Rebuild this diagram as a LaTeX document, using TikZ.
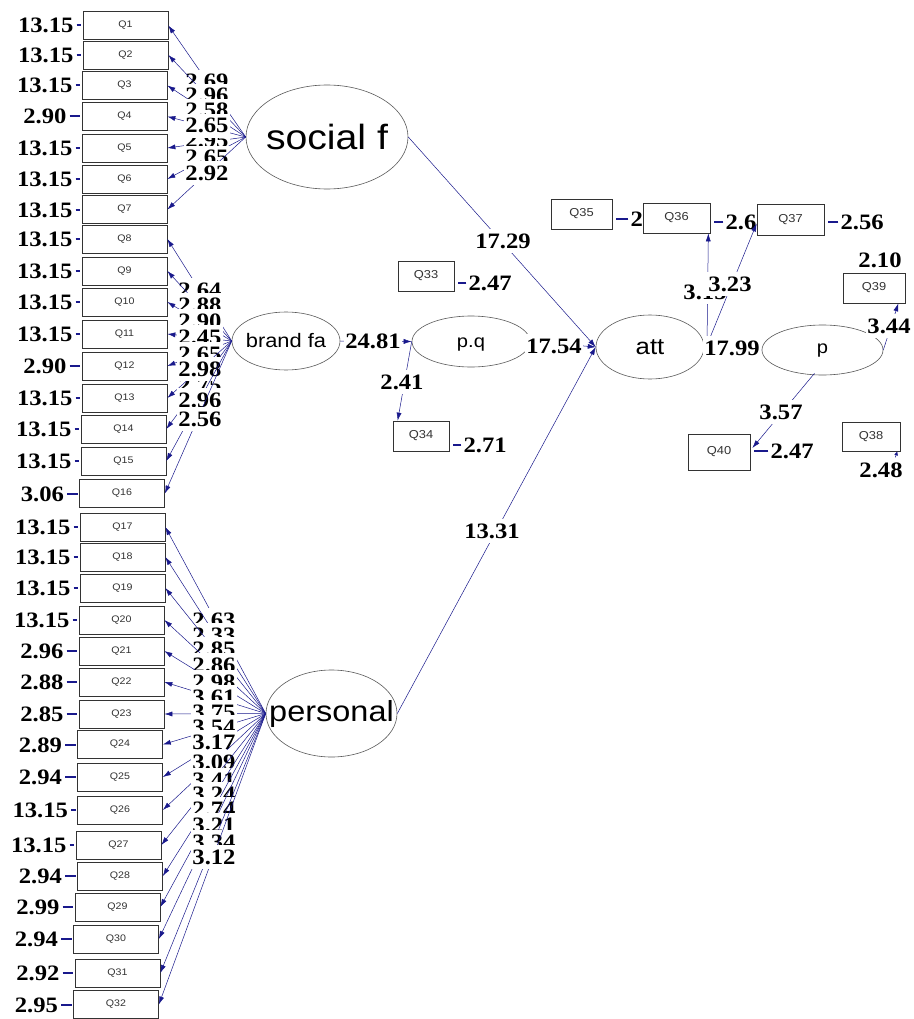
\documentclass[tikz,border=0pt]{standalone}
\usepackage{fontspec}
\usetikzlibrary{shapes.geometric,arrows.meta,calc}
\newfontfamily\numf[FakeStretch=1.12]{Liberation Serif}
\newfontfamily\sansf[FakeStretch=1.12]{Liberation Sans}
\definecolor{navy}{RGB}{25,25,140}
\begin{document}
\begin{tikzpicture}[x=1pt,y=-1pt,
  obs/.style={draw=black!80, line width=0.7pt, rectangle, minimum width=85pt, minimum height=28pt, inner sep=0pt, font=\sansf\fontsize{9.5}{10}\selectfont, text=black!80},
  robs/.style={obs, font=\sansf\fontsize{11.5}{12}\selectfont},
  lat/.style={draw=black!65, line width=0.6pt, ellipse, inner sep=0pt},
  lattext/.style={inner sep=0pt, font=\sansf\fontsize{#1}{#1}\selectfont},
  num/.style={font=\numf\bfseries\fontsize{22}{22}\selectfont, inner sep=0pt, text height=15pt, text depth=0pt},
  lab/.style={num, fill=white, text height=19pt, text depth=5pt, inner xsep=1.5pt},
  ind/.style={draw=navy, line width=0.5pt, -{Latex[length=8pt,width=5pt]}},
  edash/.style={draw=navy, line width=2pt},
]
\fill[white] (0,0) rectangle (913,1019);
\useasboundingbox (0,0) rectangle (913,1019);

% ---- latent variables
\node[lat, minimum width=162pt, minimum height=104pt] (sf) at (327,137) {};
\node[lattext=35] (sft) at (sf.center) {social f};
\node[lat, minimum width=108pt, minimum height=58pt] (bf) at (286,341) {};
\node[lattext=19.5] (bft) at (bf.center) {brand fa};
\node[lat, minimum width=118pt, minimum height=51pt] (pq) at (471,341.5) {};
\node[lattext=18] (pqt) at ($(pq.center)+(0,3)$) {p.q};
\node[lat, minimum width=108pt, minimum height=64pt] (att) at (650,347) {};
\node[lattext=23] (attt) at (att.center) {att};
\node[lat, minimum width=121pt, minimum height=50pt] (pp) at (822.5,350) {};
\node[lattext=18] (ppt) at ($(pp.center)+(0,1)$) {p};
\node[lat, minimum width=131pt, minimum height=87pt] (pers) at (331.5,713.5) {};
\node[lattext=29] (perst) at (pers.center) {personal};

% ---- left observed variables with error values
\foreach \n/\x/\y/\e/\g in {
1/125.5/25.5/13.15/9, 2/125.5/55/13.15/9, 3/124.5/85.5/13.15/9, 4/124.5/116.5/2.90/15,
5/124.5/148/13.15/9, 6/124.5/179/13.15/9, 7/124.5/209.5/13.15/9, 8/124.5/239/13.15/9,
9/124.5/271/13.15/9, 10/124.5/302/13.15/9, 11/124.5/334/13.15/9, 12/124.5/366/2.90/15,
13/124.5/398/13.15/9, 14/123.5/429/13.15/9, 15/123.5/461/13.15/9, 16/122/493.5/3.06/15,
17/122.5/527/13.15/9, 18/122.5/557/13.15/9, 19/122.5/588/13.15/9, 20/121.5/620/13.15/9,
21/121.5/651/2.96/15, 22/121.5/682/2.88/15, 23/121.5/714/2.85/15, 24/120/744.5/2.89/15,
25/120/777/2.94/15, 26/120/810/13.15/9, 27/118.5/845/13.15/9, 28/120/876/2.94/15,
29/117.5/907/2.99/15, 30/116/939/2.94/15, 31/117.5/973/2.92/15, 32/116/1004.5/2.95/15}{
  \node[obs] (Q\n) at (\x,\y) {Q\n};
  \node[num, anchor=east] (E\n) at ($(Q\n.west)+(-\g,0)$) {\e};
  \draw[edash] ($(E\n.east)+(3,0)$) -- ($(Q\n.west)+(-1.5,0)$);
}

% ---- loadings: social f
\foreach \n/\v/\ly in {1/2.69/82, 2/2.96/96, 3/2.58/111, 5/2.95/141, 4/2.65/126, 6/2.65/158, 7/2.92/173}{
  \draw[ind] (sf.west) -- (Q\n.east);
  \node[lab] (L\n) at (207,\ly) {\v};
}
% ---- loadings: brand fa
\foreach \n/\v/\ly in {8/2.64/290, 9/2.88/305, 10/2.90/321, 11/2.45/337, 12/2.65/354, 14/2.75/385, 13/2.98/369, 15/2.96/400, 16/2.56/419}{
  \draw[ind] (bf.west) -- (Q\n.east);
  \node[lab] (L\n) at (200,\ly) {\v};
}
% ---- loadings: personal
\foreach \n/\v/\ly in {17/2.63/620, 18/2.33/635, 19/2.85/649, 20/2.86/665, 21/2.98/682, 22/3.61/697,
  23/3.75/712, 24/3.54/727, 25/3.17/742, 26/3.09/762, 27/3.41/780, 28/3.24/794, 29/2.74/809,
  30/3.21/825, 31/3.34/842, 32/3.12/857}{
  \draw[ind] (pers.west) -- (Q\n.east);
  \node[lab] (L\n) at (214,\ly) {\v};
}

% ---- right observed variables
\node[robs, minimum width=61pt, minimum height=30pt] (Q35) at (581.5,214) {Q35};
\node[robs, minimum width=56pt, minimum height=30pt] (Q33) at (426,276) {Q33};
\node[robs, minimum width=56pt, minimum height=30pt] (Q34) at (421,436) {Q34};
\node[robs, minimum width=67pt, minimum height=30pt] (Q36) at (676.5,218) {Q36};
\node[robs, minimum width=67pt, minimum height=31pt] (Q37) at (790.5,219.5) {Q37};
\node[robs, minimum width=62pt, minimum height=30pt] (Q39) at (874,288) {Q39};
\node[robs, minimum width=62pt, minimum height=36pt] (Q40) at (719,452) {Q40};
\node[robs, minimum width=58pt, minimum height=29pt] (Q38) at (871,436.5) {Q38};

% right error values
\foreach \q/\dx/\dy/\e in {35/18/5/2, 36/15/4/2.6, 37/16/2.5/2.56, 33/14/7/2.47, 34/14/9/2.71, 40/20/-1/2.47}{
  \node[num, anchor=west] (E\q) at ($(Q\q.east)+(\dx,\dy)$) {\e};
  \draw[edash] ($(E\q.west)+(-2,0)$) -- ($(Q\q.east |- E\q.west)+(4,0)$);
}
\node[num] (E39) at ($(Q39.north)+(6,-13)$) {2.10};
\node[num] (E38) at ($(Q38.south)+(10,19)$) {2.48};
\coordinate (e38) at ($(Q38.south east)+(-5,6)$);
\draw[draw=navy, line width=0.6pt, -{Latex[length=4pt,width=4pt]}] (e38) -- ($(Q38.south east)+(-3,0)$);

% ---- structural paths
\draw[ind] (sf.east) -- (att.west);
\node[lab] (Lsa) at (503,241) {17.29};
\draw[ind] (pers.east) -- (att.west);
\node[lab] (Lpa) at (492,531) {13.31};
\draw[ind] (pq.east) -- (att.west);
\node[lab] (Lqa) at (554,346) {17.54};
\draw[ind] (bf.east) -- (pq.west);
\node[lab] (Lbq) at (373,341) {24.81};
\draw[ind] (pq.west) -- ($(Q34.north west)+(5,0)$);
\node[lab] (Lq34) at (402,382) {2.41};

\coordinate (attout) at (707,345);
\draw[ind] (attout) -- ($(Q36.south east)+(-2,0)$);
\node[lab] (La36) at (705,292) {3.15};
\draw[ind] (attout) -- ($(Q37.west)+(0,4)$);
\node[lab, inner xsep=7pt] (La37) at (730,284) {3.23};
\draw[ind] (att.east) -- (pp.west);
\node[lab] (Lap) at (732,348) {17.99};

\draw[ind] (pp.east) -- ($(Q39.south east)+(-7,0)$);
\node[lab] (Lp39) at (889,326) {3.44};
\draw[ind] ($(pp.south)+(-8,-2)$) -- ($(Q40.east)+(2,-4)$);
\node[lab] (Lp40) at (781,412) {3.57};
\end{tikzpicture}
\end{document}
